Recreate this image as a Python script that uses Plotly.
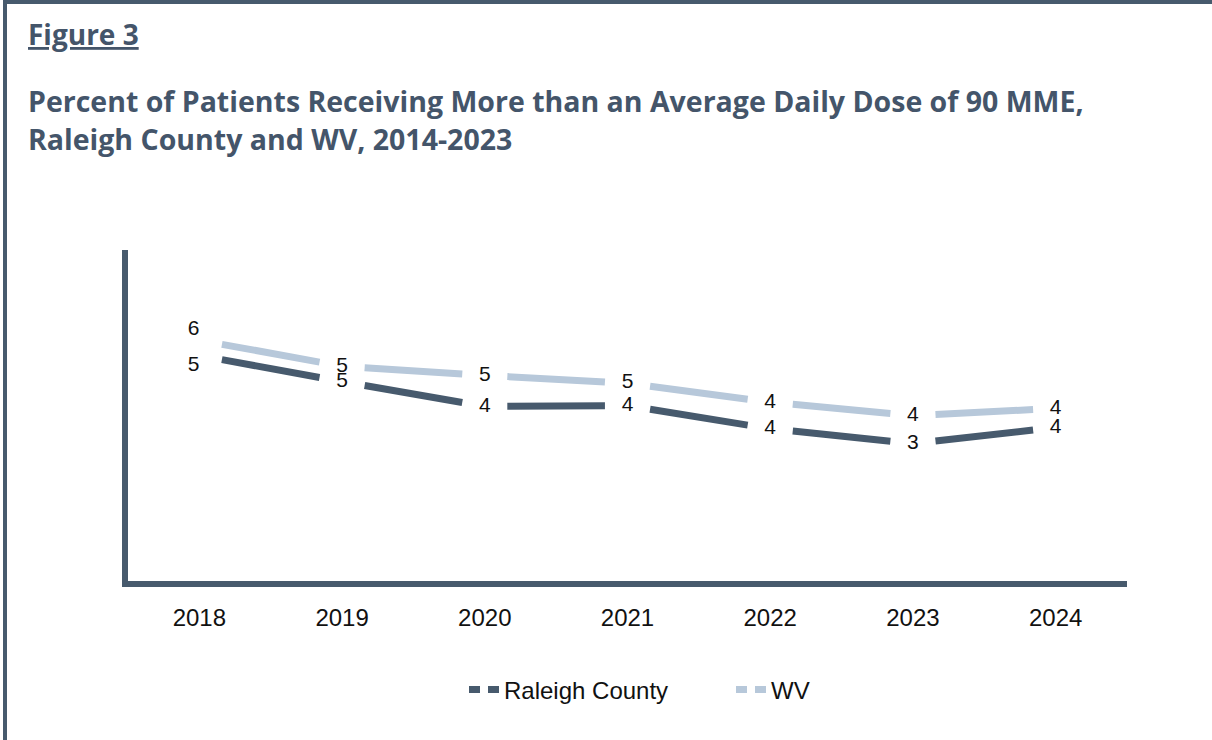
import plotly.graph_objects as go

years = ["2018", "2019", "2020", "2021", "2022", "2023", "2024"]
raleigh = [5.45, 4.82, 4.22, 4.24, 3.68, 3.32, 3.71]
wv = [5.82, 5.19, 4.97, 4.78, 4.32, 4.0, 4.17]
series_names = ["Raleigh County", "WV"]

DARK = "#475a6d"
LIGHT = "#b7c8da"
TXT = "#44556a"

W, H = 1212, 740
ML, MR, MT, MB = 128, 85, 250, 159
PW, PH = W - ML - MR, H - MT - MB


def px_x(p):
    return (p - ML) / PW


def px_y(p):
    return (H - MB - p) / PH


xi = list(range(len(years)))
GAP = 0.158


def segments(vals):
    sx, sy = [], []
    for i in range(len(vals) - 1):
        a, b = vals[i], vals[i + 1]
        sx += [i + GAP, i + 1 - GAP, None]
        sy += [a + (b - a) * GAP, a + (b - a) * (1 - GAP), None]
    return sx, sy


fig = go.Figure()
label_font = dict(family="Liberation Sans, Arial, sans-serif", size=21, color="#111111")

for name, vals, col in [(series_names[0], raleigh, DARK), (series_names[1], wv, LIGHT)]:
    sx, sy = segments(vals)
    fig.add_trace(go.Scatter(x=sx, y=sy, mode="lines", line=dict(color=col, width=7),
                             showlegend=False, hoverinfo="skip"))

for name, vals, pos0 in [(series_names[0], raleigh, "bottom left"), (series_names[1], wv, "top left")]:
    fig.add_trace(go.Scatter(x=xi, y=vals, mode="text", texttemplate="%{y:.0f}",
                             textposition=[pos0] + ["middle center"] * (len(vals) - 1),
                             textfont=label_font, showlegend=False, hoverinfo="skip"))

for name, col in [(series_names[0], DARK), (series_names[1], LIGHT)]:
    fig.add_trace(go.Scatter(x=[None], y=[None], mode="lines", name=name,
                             line=dict(color=col, width=7, dash="11px,8px")))

shapes = [dict(type="rect", xref="paper", yref="paper",
               x0=px_x(5), x1=px_x(1240), y0=px_y(2), y1=px_y(780),
               line=dict(color=DARK, width=4), fillcolor="rgba(0,0,0,0)", layer="below")]

title_font = dict(family="Open Sans, Lato, sans-serif", color=TXT)
annotations = [
    dict(text="<b><u>Figure 3</u></b>", x=px_x(26), y=px_y(34), xref="paper", yref="paper",
         xanchor="left", yanchor="middle", showarrow=False, font=dict(size=28, **title_font)),
    dict(text="<b>Percent of Patients Receiving More than an Average Daily Dose of 90 MME,</b>",
         x=px_x(26), y=px_y(101), xref="paper", yref="paper",
         xanchor="left", yanchor="middle", showarrow=False, font=dict(size=28.5, **title_font)),
    dict(text="<b>Raleigh County and WV, 2014-2023</b>",
         x=px_x(26), y=px_y(139), xref="paper", yref="paper",
         xanchor="left", yanchor="middle", showarrow=False, font=dict(size=28.5, **title_font)),
]

fig.update_layout(
    width=W, height=H,
    margin=dict(l=ML, r=MR, t=MT, b=MB),
    paper_bgcolor="white", plot_bgcolor="white",
    shapes=shapes, annotations=annotations,
    showlegend=True,
    legend=dict(orientation="h", x=px_x(464), xanchor="left", y=px_y(690), yanchor="middle",
                font=dict(family="Liberation Sans, Arial, sans-serif", size=24, color="#111111"),
                itemwidth=30, tracegroupgap=0, entrywidth=222),
    xaxis=dict(range=[-0.5, len(years) - 0.5], tickvals=xi, ticktext=years,
               showgrid=False, zeroline=False, showline=True, linecolor=DARK, linewidth=6,
               ticks="outside", ticklen=10, tickcolor="rgba(0,0,0,0)",
               tickfont=dict(family="Liberation Sans, Arial, sans-serif", size=24, color="#111111")),
    yaxis=dict(range=[0, 8], showgrid=False, zeroline=False, showticklabels=False,
               showline=True, linecolor=DARK, linewidth=6, ticks=""),
)

fig.write_html("out.html", config={"displayModeBar": False},
               post_script="document.body.style.margin='0';")
